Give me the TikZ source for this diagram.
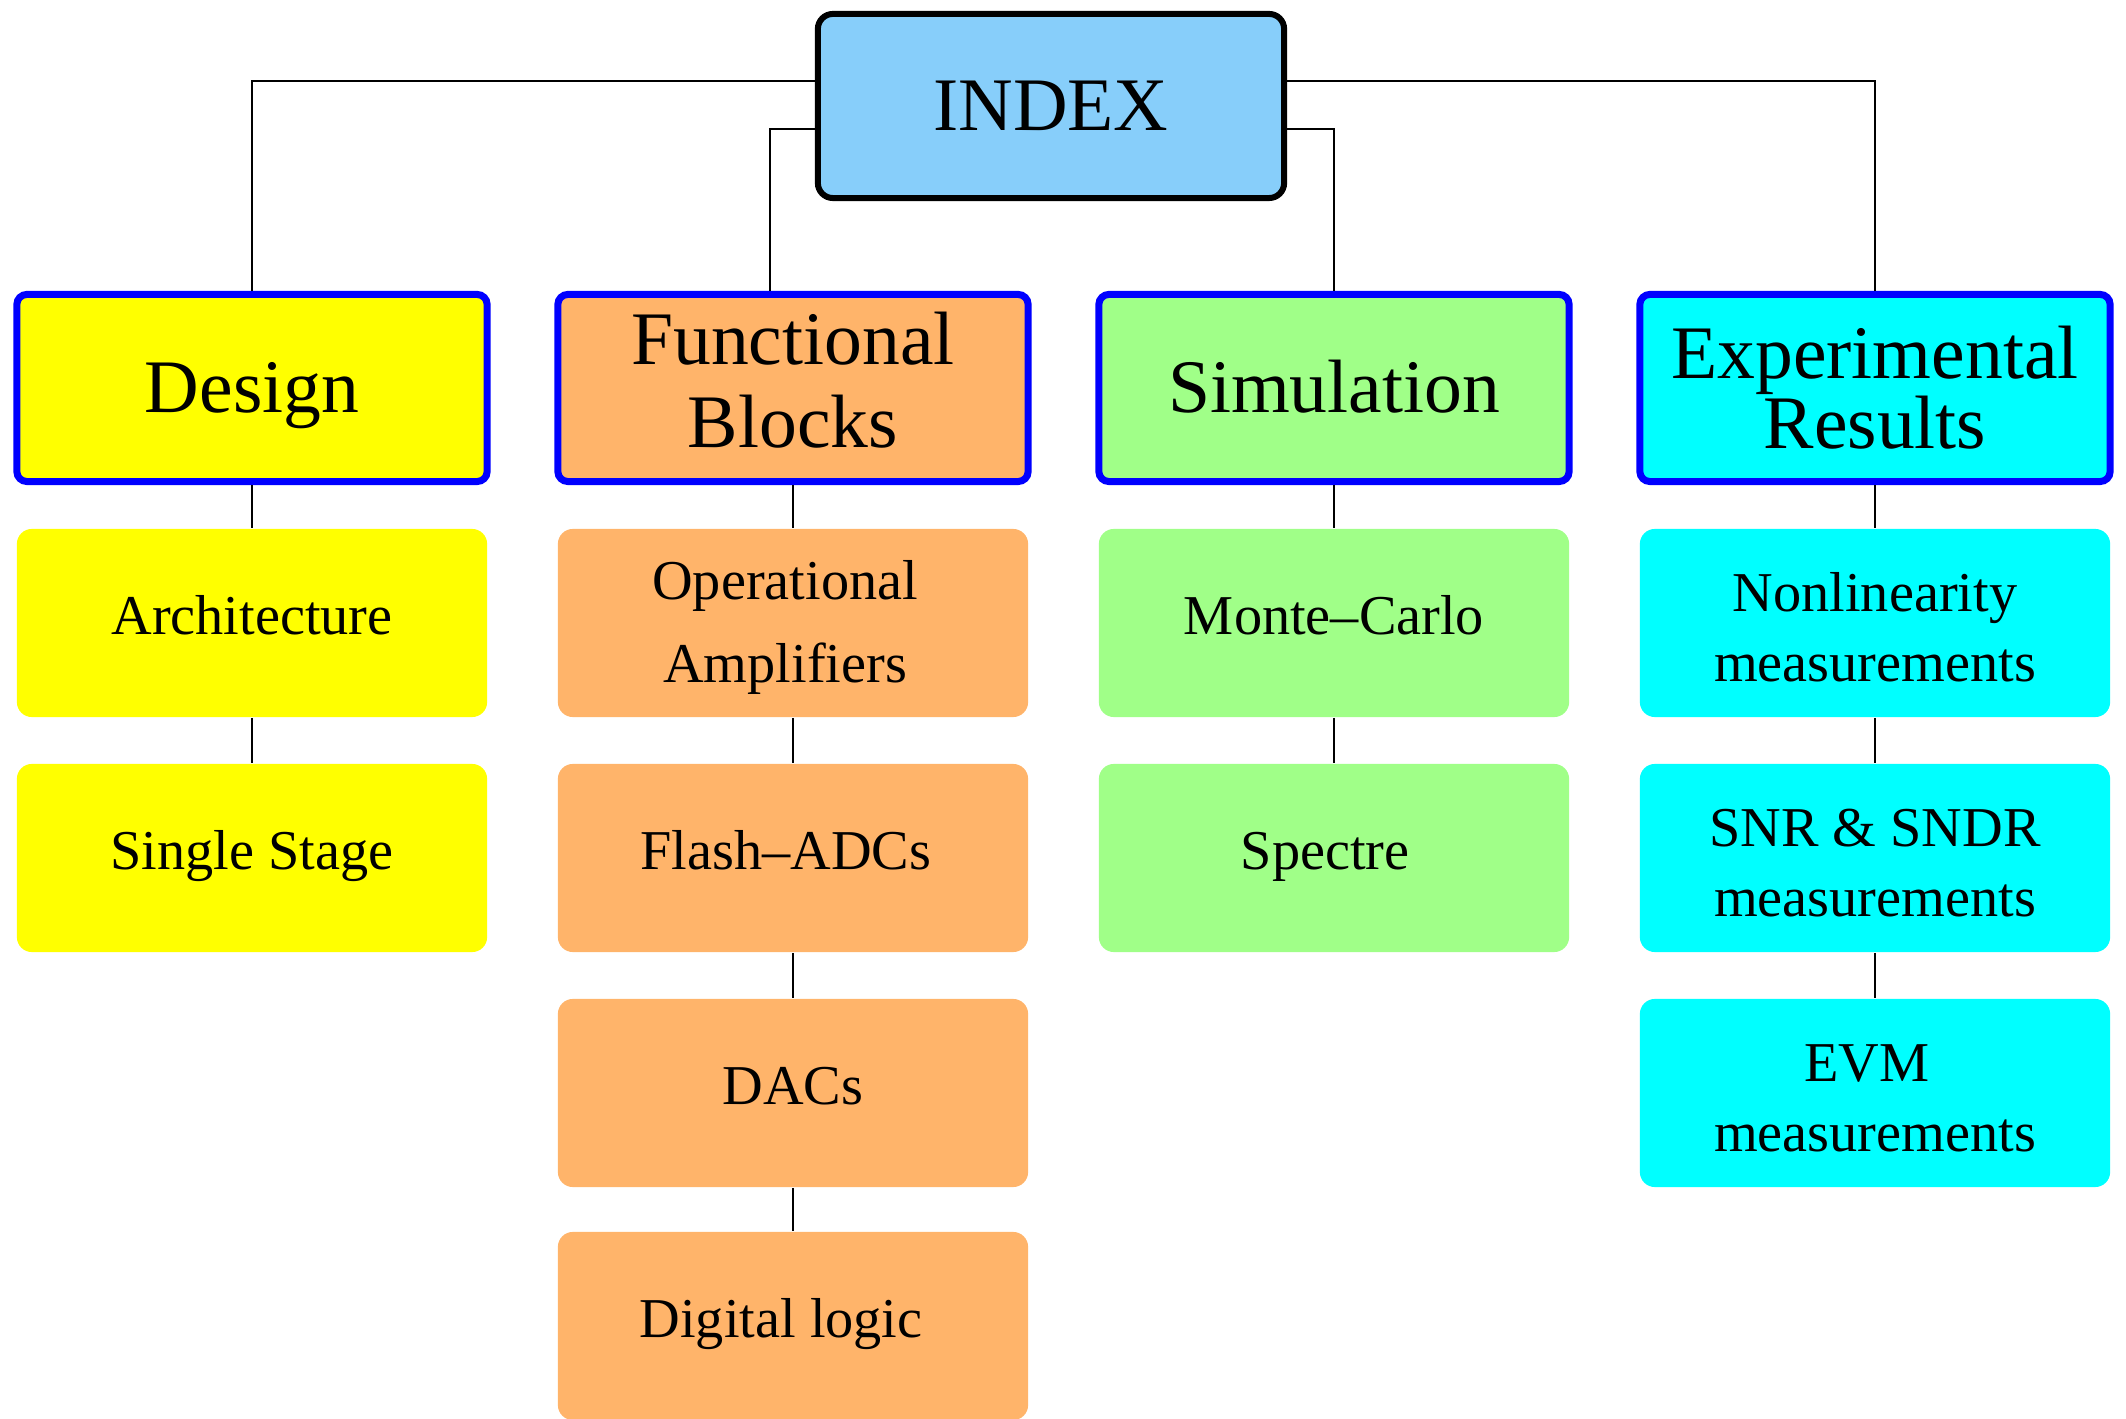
\documentclass[tikz,border=0pt]{standalone}
\usepackage{fontspec}
\setmainfont{Liberation Serif}
\definecolor{idxblue}{HTML}{87CEFA}
\definecolor{cyel}{HTML}{FFFF00}
\definecolor{corange}{HTML}{FFB46A}
\definecolor{cgreen}{HTML}{A0FF88}
\definecolor{ccyan}{HTML}{00FFFF}
\begin{document}
\begin{tikzpicture}[x=0.01cm,y=-0.01cm,
  topbox/.style={draw=blue, line width=0.07cm, rounded corners=0.1cm,
    minimum width=4.70cm, minimum height=1.87cm, inner sep=0pt, align=center,
    font=\fontsize{21.5}{19.9}\selectfont},
  toponeline/.style={text height=14.7pt, text depth=1.0pt},
  subbox/.style={rounded corners=0.15cm, minimum width=4.70cm, minimum height=1.88cm,
    inner sep=0pt, align=center, font=\fontsize{16}{19.9}\selectfont},
  suboneline/.style={text height=10.9pt, text depth=4.1pt},
  conn/.style={line width=0.6pt, draw=black}
]
\useasboundingbox (0,0) rectangle (2126,1419);

% root
\node[draw=black, line width=0.06cm, rounded corners=0.15cm, fill=idxblue,
      minimum width=4.66cm, minimum height=1.84cm, inner sep=0pt,
      font=\fontsize{21.5}{20}\selectfont, text height=14.7pt, text depth=1.0pt]
      (index) at (1051,106) {INDEX};

% top level
\node[topbox, toponeline, fill=cyel] (design) at (252,388) {Design};
\node[topbox, fill=corange] (func) at (793,388)
  {Functional\\[3.6pt]Blocks\rule[-4.6pt]{0pt}{4.6pt}};
\node[topbox, toponeline, fill=cgreen] (sim) at (1334,388) {Simulation};
\node[topbox, fill=ccyan] (exp) at (1875,388) {Experimental\\Results};

% design column
\node[subbox, suboneline, fill=cyel] (arch) at (252,623) {Architecture};
\node[subbox, suboneline, fill=cyel] (single) at (252,858) {Single Stage};

% functional column
\node[subbox, fill=corange] (opamp) at (793,623)
  {\rule{0pt}{13.7pt}Operational\hspace{4.5pt}\mbox{}\\[3.6pt]Amplifiers\hspace{4.5pt}\mbox{}};
\node[subbox, suboneline, fill=corange] (flash) at (793,858) {Flash--ADCs\hspace{4pt}};
\node[subbox, suboneline, fill=corange] (dac) at (793,1093) {DACs};
\node[subbox, suboneline, fill=corange] (digital) at (793,1326) {Digital logic\hspace{6.8pt}};

% simulation column
\node[subbox, suboneline, fill=cgreen] (monte) at (1334,623) {Monte--Carlo};
\node[subbox, suboneline, fill=cgreen] (spectre) at (1334,858) {Spectre\hspace{5pt}};

% experimental column
\node[subbox, fill=ccyan] (nonlin) at (1875,623)
  {\rule{0pt}{13.7pt}Nonlinearity\\measurements};
\node[subbox, fill=ccyan] (snr) at (1875,858)
  {\rule{0pt}{13.7pt}SNR \& SNDR\\measurements};
\node[subbox, fill=ccyan] (evm) at (1875,1093)
  {\rule{0pt}{13.7pt}EVM\hspace{4.5pt}\mbox{}\\measurements};

% connectors from root
\draw[conn] ([yshift=0.25cm]index.west) -| (design.north);
\draw[conn] ([yshift=-0.23cm]index.west) -| ([xshift=-0.23cm]func.north);
\draw[conn] ([yshift=-0.23cm]index.east) -| (sim.north);
\draw[conn] ([yshift=0.25cm]index.east) -| (exp.north);

% column connectors
\draw[conn] (design.south) -- (arch.north);
\draw[conn] (arch.south) -- (single.north);
\draw[conn] (func.south) -- (opamp.north);
\draw[conn] (opamp.south) -- (flash.north);
\draw[conn] (flash.south) -- (dac.north);
\draw[conn] (dac.south) -- (digital.north);
\draw[conn] (sim.south) -- (monte.north);
\draw[conn] (monte.south) -- (spectre.north);
\draw[conn] (exp.south) -- (nonlin.north);
\draw[conn] (nonlin.south) -- (snr.north);
\draw[conn] (snr.south) -- (evm.north);
\end{tikzpicture}
\end{document}
